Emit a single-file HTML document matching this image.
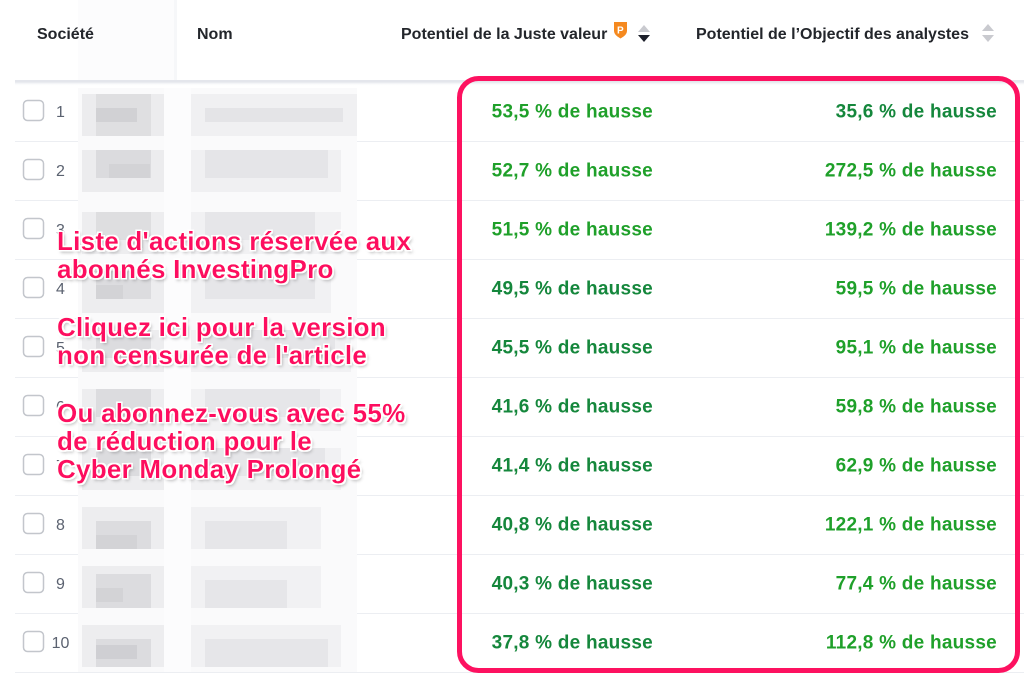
<!DOCTYPE html>
<html><head><meta charset="utf-8"><style>
html,body{margin:0;padding:0;background:#fff;}
svg{display:block;}
.h{font-family:"Liberation Sans",Arial,sans-serif;font-weight:700;font-size:16px;fill:#23262b;}
.n{font-family:"Liberation Sans",Arial,sans-serif;font-size:16px;fill:#5b6270;}
.v{font-family:"Liberation Sans",Arial,sans-serif;font-weight:700;font-size:19px;letter-spacing:0.25px;}
.b{fill:#1fa02a;}
.d{fill:#15873c;}
.o{font-family:"Liberation Sans",Arial,sans-serif;font-weight:700;font-size:26px;letter-spacing:0.25px;fill:#fd1160;}
</style></head><body>
<svg width="1024" height="676" viewBox="0 0 1024 676" xmlns="http://www.w3.org/2000/svg">
<defs>
<filter id="sh" x="-5%" y="-20%" width="110%" height="150%">
<feMorphology in="SourceAlpha" operator="dilate" radius="1.3" result="dil"/>
<feFlood flood-color="#ffffff"/>
<feComposite in2="dil" operator="in" result="white"/>
<feGaussianBlur in="SourceAlpha" stdDeviation="1.5" result="blur"/>
<feOffset in="blur" dx="2" dy="2.5" result="off"/>
<feFlood flood-color="#000" flood-opacity="0.3"/>
<feComposite in2="off" operator="in" result="shadow"/>
<feMerge><feMergeNode in="shadow"/><feMergeNode in="white"/><feMergeNode in="SourceGraphic"/></feMerge>
</filter>
<linearGradient id="hs" x1="0" y1="0" x2="0" y2="1">
<stop offset="0" stop-color="#e3e6ec"/><stop offset="1" stop-color="#ffffff" stop-opacity="0"/>
</linearGradient>
</defs>

<!-- header faint sticky shade -->
<rect x="78" y="0" width="97" height="81" fill="#fcfcfd"/>
<rect x="174" y="0" width="3" height="81" fill="#f6f7f9"/>

<!-- header text -->
<text class="h" x="37" y="39">Société</text>
<text class="h" x="197" y="39">Nom</text>
<text class="h" x="401" y="39">Potentiel de la Juste valeur</text>
<text class="h" x="696" y="39">Potentiel de l’Objectif des analystes</text>
<!-- P icon -->
<path d="M614 22 h13 v9 q0 4 -6.5 7.5 q-6.5 -3.5 -6.5 -7.5 z" fill="#f5891f"/>
<text x="617" y="33.5" font-family="Liberation Sans,Arial,sans-serif" font-weight="700" font-size="10" fill="#fff">P</text>
<!-- sort icons -->
<path d="M638 32 L644 25 L650 32 Z" fill="#c9cacf"/>
<path d="M638 35 L650 35 L644 42 Z" fill="#1c1f2a"/>
<path d="M982 31 L988 24 L994 31 Z" fill="#c9cacf"/>
<path d="M982 35 L994 35 L988 42 Z" fill="#c9cacf"/>

<!-- header bottom border -->
<rect x="15" y="80" width="1009" height="2" fill="#e4e6ec"/>
<rect x="15" y="82" width="1009" height="4" fill="url(#hs)"/>

<!-- row separators -->
<g fill="#eceef2">
<rect x="15" y="141" width="1009" height="1"/>
<rect x="15" y="200" width="1009" height="1"/>
<rect x="15" y="259" width="1009" height="1"/>
<rect x="15" y="318" width="1009" height="1"/>
<rect x="15" y="377" width="1009" height="1"/>
<rect x="15" y="436" width="1009" height="1"/>
<rect x="15" y="495" width="1009" height="1"/>
<rect x="15" y="554" width="1009" height="1"/>
<rect x="15" y="613" width="1009" height="1"/>
<rect x="15" y="672" width="1009" height="1"/>
</g>

<!-- blurred region background -->
<rect x="78" y="88" width="279" height="584" fill="#fafafb"/>
<rect x="164" y="88" width="27" height="584" fill="#fcfcfd"/>

<!-- blurred blocks per row -->
<g>
<rect x="82" y="94" width="82" height="42" fill="#ececee"/><rect x="96" y="94" width="55" height="42" fill="#dfdfe1"/><rect x="96" y="108" width="41" height="14" fill="#d1d1d4"/>
<rect x="191" y="94" width="166" height="42" fill="#f0f0f2"/><rect x="205" y="108" width="138" height="14" fill="#e4e4e7"/>
<rect x="82" y="150" width="82" height="42" fill="#ececee"/><rect x="96" y="150" width="55" height="28" fill="#dbdbde"/><rect x="109" y="164" width="41" height="14" fill="#d3d3d6"/>
<rect x="191" y="150" width="150" height="42" fill="#f0f0f2"/><rect x="205" y="150" width="123" height="28" fill="#e5e5e8"/>
<rect x="82" y="212" width="82" height="42" fill="#ededef"/><rect x="96" y="212" width="55" height="28" fill="#dedee0"/>
<rect x="191" y="212" width="150" height="42" fill="#f1f1f3"/><rect x="205" y="212" width="110" height="28" fill="#e6e6e9"/>
<rect x="82" y="271" width="82" height="42" fill="#ededef"/><rect x="96" y="271" width="55" height="28" fill="#dcdcdf"/><rect x="96" y="285" width="27" height="14" fill="#d3d3d6"/>
<rect x="191" y="271" width="140" height="42" fill="#f1f1f3"/><rect x="205" y="271" width="110" height="28" fill="#e6e6e9"/>
<rect x="82" y="330" width="82" height="42" fill="#ededef"/><rect x="96" y="330" width="55" height="28" fill="#dcdcdf"/>
<rect x="191" y="330" width="160" height="42" fill="#f1f1f3"/><rect x="205" y="330" width="130" height="28" fill="#e5e5e8"/>
<rect x="82" y="389" width="82" height="42" fill="#ededef"/><rect x="96" y="389" width="55" height="28" fill="#dcdcdf"/>
<rect x="191" y="389" width="150" height="42" fill="#f1f1f3"/><rect x="205" y="389" width="115" height="28" fill="#e6e6e9"/>
<rect x="82" y="448" width="82" height="42" fill="#ededef"/><rect x="96" y="448" width="55" height="28" fill="#dcdcdf"/>
<rect x="191" y="448" width="150" height="42" fill="#f1f1f3"/><rect x="205" y="448" width="120" height="28" fill="#e6e6e9"/>
<rect x="82" y="507" width="82" height="42" fill="#ededef"/><rect x="96" y="521" width="55" height="28" fill="#dcdcdf"/><rect x="96" y="535" width="41" height="14" fill="#d3d3d6"/>
<rect x="191" y="507" width="130" height="42" fill="#f1f1f3"/><rect x="205" y="521" width="82" height="28" fill="#e6e6e9"/>
<rect x="82" y="566" width="82" height="42" fill="#ededef"/><rect x="96" y="574" width="55" height="34" fill="#dcdcdf"/><rect x="96" y="588" width="27" height="14" fill="#d3d3d6"/>
<rect x="191" y="566" width="130" height="42" fill="#f1f1f3"/><rect x="205" y="580" width="82" height="28" fill="#e6e6e9"/>
<rect x="82" y="625" width="82" height="42" fill="#ededef"/><rect x="96" y="639" width="55" height="28" fill="#dcdcdf"/><rect x="96" y="645" width="41" height="14" fill="#cfcfd3"/>
<rect x="191" y="625" width="150" height="42" fill="#f1f1f3"/><rect x="205" y="639" width="123" height="28" fill="#e6e6e9"/>
</g>

<!-- checkboxes -->
<g fill="#fff" stroke="#c3c6cc" stroke-width="1.5">
<rect x="23.5" y="100.5" width="20" height="20" rx="4"/>
<rect x="23.5" y="159.5" width="20" height="20" rx="4"/>
<rect x="23.5" y="218.5" width="20" height="20" rx="4"/>
<rect x="23.5" y="277.5" width="20" height="20" rx="4"/>
<rect x="23.5" y="336.5" width="20" height="20" rx="4"/>
<rect x="23.5" y="395.5" width="20" height="20" rx="4"/>
<rect x="23.5" y="454.5" width="20" height="20" rx="4"/>
<rect x="23.5" y="513.5" width="20" height="20" rx="4"/>
<rect x="23.5" y="572.5" width="20" height="20" rx="4"/>
<rect x="23.5" y="631.5" width="20" height="20" rx="4"/>
</g>

<!-- row numbers -->
<g text-anchor="middle">
<text class="n" x="60.5" y="117">1</text>
<text class="n" x="60.5" y="176">2</text>
<text class="n" x="60.5" y="235">3</text>
<text class="n" x="60.5" y="294">4</text>
<text class="n" x="60.5" y="353">5</text>
<text class="n" x="60.5" y="412">6</text>
<text class="n" x="60.5" y="471">7</text>
<text class="n" x="60.5" y="530">8</text>
<text class="n" x="60.5" y="589">9</text>
<text class="n" x="60.5" y="648">10</text>
</g>

<!-- values -->
<g text-anchor="end">
<text class="v b" x="653" y="117.5">53,5 % de hausse</text>
<text class="v d" x="997" y="117.5">35,6 % de hausse</text>
<text class="v b" x="653" y="176.5">52,7 % de hausse</text>
<text class="v b" x="997" y="176.5">272,5 % de hausse</text>
<text class="v b" x="653" y="235.5">51,5 % de hausse</text>
<text class="v b" x="997" y="235.5">139,2 % de hausse</text>
<text class="v d" x="653" y="294.5">49,5 % de hausse</text>
<text class="v b" x="997" y="294.5">59,5 % de hausse</text>
<text class="v d" x="653" y="353.5">45,5 % de hausse</text>
<text class="v b" x="997" y="353.5">95,1 % de hausse</text>
<text class="v d" x="653" y="412.5">41,6 % de hausse</text>
<text class="v b" x="997" y="412.5">59,8 % de hausse</text>
<text class="v d" x="653" y="471.5">41,4 % de hausse</text>
<text class="v b" x="997" y="471.5">62,9 % de hausse</text>
<text class="v d" x="653" y="530.5">40,8 % de hausse</text>
<text class="v b" x="997" y="530.5">122,1 % de hausse</text>
<text class="v d" x="653" y="589.5">40,3 % de hausse</text>
<text class="v b" x="997" y="589.5">77,4 % de hausse</text>
<text class="v d" x="653" y="648.5">37,8 % de hausse</text>
<text class="v b" x="997" y="648.5">112,8 % de hausse</text>
</g>

<!-- pink box -->
<rect x="459.5" y="78.5" width="558" height="592" rx="19" ry="19" fill="none" stroke="#fd1160" stroke-width="5"/>

<!-- overlay text -->
<g filter="url(#sh)">
<text class="o" x="57" y="250">Liste d'actions réservée aux</text>
<text class="o" x="57" y="278">abonnés InvestingPro</text>
<text class="o" x="57" y="336">Cliquez ici pour la version</text>
<text class="o" x="57" y="364">non censurée de l'article</text>
<text class="o" x="57" y="422">Ou abonnez-vous avec 55%</text>
<text class="o" x="57" y="450">de réduction pour le</text>
<text class="o" x="57" y="478">Cyber Monday Prolongé</text>
</g>
</svg>
</body></html>
